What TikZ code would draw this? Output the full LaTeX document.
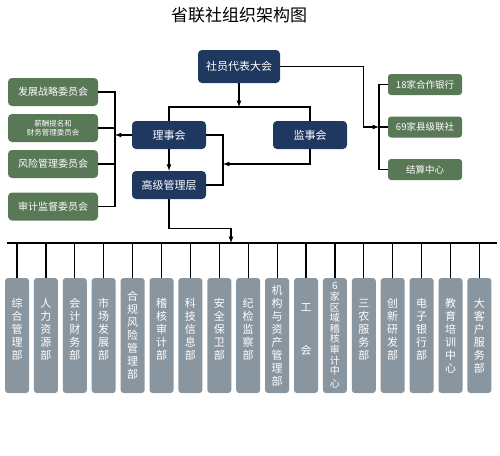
\documentclass[tikz,border=0pt]{standalone}
\usepackage{fontspec}
\newfontfamily\cjk{Noto Sans CJK SC}
\usepackage{xcolor}
\usetikzlibrary{arrows}
\definecolor{mynavy}{RGB}{31,56,96}
\definecolor{mygreen}{RGB}{88,120,86}
\definecolor{mygrey}{RGB}{137,149,159}
\setlength{\lineskiplimit}{-20pt}

\tikzset{
  navybox/.style={fill=mynavy, text=white, rounded corners=4pt, inner sep=0pt,
    minimum width=74, minimum height=28, font=\cjk\fontsize{11}{13}\selectfont},
  greenbox/.style={fill=mygreen, text=white, rounded corners=4pt, inner sep=0pt,
    minimum width=90, minimum height=28, align=center, font=\cjk\fontsize{10}{12}\selectfont},
  rgreenbox/.style={fill=mygreen, text=white, rounded corners=3pt, inner sep=0pt,
    minimum width=74, minimum height=21, font=\cjk\fontsize{9.5}{11}\selectfont},
  deptbox/.style={fill=mygrey, text=white, rounded corners=3pt, inner sep=0pt,
    minimum width=24, minimum height=115, text width=14pt, align=center,
    font=\cjk\fontsize{11}{13}\selectfont},
  wire/.style={line width=1.2},
}

\begin{document}
\begin{tikzpicture}[x=1pt,y=-1pt]
\useasboundingbox (0,0) rectangle (500,455);

\node (title) at (239,15) {\cjk\fontsize{17}{17}\selectfont 省联社组织架构图};

% top of the chart
\node[navybox, minimum width=82, minimum height=33] (sydh) at (239,66.5) {社员代表大会};
\node[navybox] (lsh) at (169,135) {理事会};
\node[navybox] (jsh) at (310,135) {监事会};
\node[navybox] (gjgl) at (169,185) {高级管理层};

% committees on the left
\node[greenbox] (wy1) at (53,92) {发展战略委员会};
\node[greenbox, font=\cjk\fontsize{7.5}{9}\selectfont] (wy2) at (53,128) {薪酬提名和\\财务管理委员会};
\node[greenbox] (wy3) at (53,164) {风险管理委员会};
\node[greenbox] (wy4) at (53,206.5) {审计监督委员会};

% members on the right
\node[rgreenbox] (hy1) at (425,84.5) {18家合作银行};
\node[rgreenbox] (hy2) at (425,127) {69家县级联社};
\node[rgreenbox] (hy3) at (425,169.5) {结算中心};

\coordinate (ctop) at (0,107);
\coordinate (lbus) at (115,0);
\coordinate (rbus) at (379,0);
\coordinate (brk) at (223,0);
\coordinate (busl) at (7,243);
\coordinate (busr) at (497,243);

% departments (short names get an empty last line so they sit higher)
\foreach \t [count=\i] in {综\\合\\管\\理\\部\\\mbox{}, 人\\力\\资\\源\\部\\\mbox{},
  会\\计\\财\\务\\部\\\mbox{}, 市\\场\\发\\展\\部\\\mbox{},
  合\\规\\风\\险\\管\\理\\部, 稽\\核\\审\\计\\部\\\mbox{},
  科\\技\\信\\息\\部\\\mbox{}, 安\\全\\保\\卫\\部\\\mbox{}, 纪\\检\\监\\察\\部\\\mbox{},
  机\\构\\与\\资\\产\\管\\理\\部, 工\\[30pt]会\\\mbox{},
  {\fontsize{10}{10.6}\selectfont 6\\家\\区\\域\\稽\\核\\审\\计\\中\\心},
  三\\农\\服\\务\\部\\\mbox{}, 创\\新\\研\\发\\部\\\mbox{}, 电\\子\\银\\行\\部\\\mbox{},
  教\\育\\培\\训\\中\\心, 大\\客\\户\\服\\务\\部}
{
  \node[deptbox] (d\i) at ({17+28.9*(\i-1)},335.5) {\t};
  \draw[wire] (d\i.north) -- (d\i.north |- busl);
}
\draw[wire] (busl) -- (busr);

% connectors
\draw[wire,-latex] (sydh.south) -- (sydh.south |- ctop);
\draw[wire] (lsh.north) -- (lsh.north |- ctop) -| (jsh.north);
\draw[wire,-latex] (sydh.east) -- ++(83,0) |- (hy2.west -| rbus);
\draw[wire] (hy1.west) -| (rbus |- hy3.west) -- (hy3.west);
\draw[wire] (hy2.west) -- (hy2.west -| rbus);

\draw[wire] (wy1.east) -| (lbus |- wy4.east) -- (wy4.east);
\draw[wire] (wy2.east) -- (wy2.east -| lbus);
\draw[wire] (wy3.east) -- (wy3.east -| lbus);
\draw[wire,-latex] (lsh.west) -- (lsh.west -| lbus);

\draw[wire,-latex] (lsh.south) -- (gjgl.north);
\draw[wire] (lsh.east) -| (brk |- gjgl.east) -- (gjgl.east);
\draw[wire,-latex] (jsh.south) |- (brk |- wy3.east);
\draw[wire,-latex] (gjgl.south) -- ++(0,29) -| (231,243);

\end{tikzpicture}
\end{document}
